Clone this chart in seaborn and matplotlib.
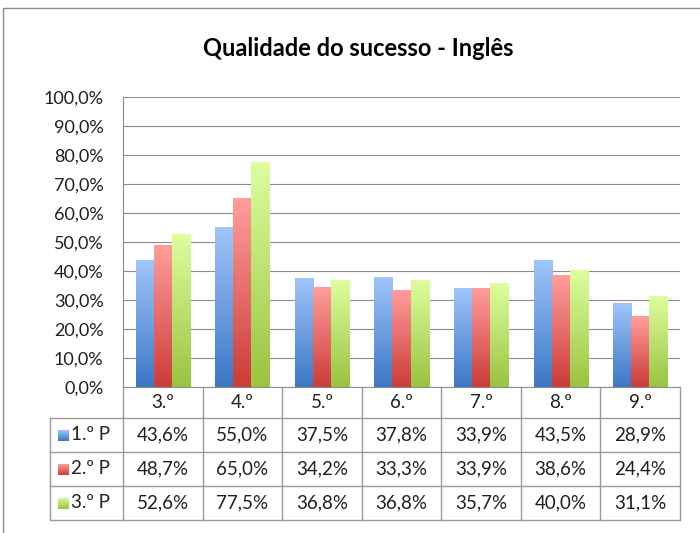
import numpy as np
import pandas as pd
import seaborn as sns
import matplotlib
matplotlib.use('Agg')
import matplotlib.pyplot as plt
from matplotlib.colors import LinearSegmentedColormap
from matplotlib.patches import Rectangle
from matplotlib.lines import Line2D
from matplotlib.transforms import Affine2D, blended_transform_factory
from matplotlib.ticker import FuncFormatter, MultipleLocator

# dados
anos = ['3.º', '4.º', '5.º', '6.º', '7.º', '8.º', '9.º']
periodos = ['1.º P', '2.º P', '3.º P']
p1 = [43.6, 55.0, 37.5, 37.8, 33.9, 43.5, 28.9]
p2 = [48.7, 65.0, 34.2, 33.3, 33.9, 38.6, 24.4]
p3 = [52.6, 77.5, 36.8, 36.8, 35.7, 40.0, 31.1]
titulo = 'Qualidade do sucesso - Inglês'

# cores do gradiente (baixo, cima)
cores = [('#3b77c6', '#a0c5fa'), ('#cc3b38', '#ff9e9c'), ('#99c340', '#defe9f')]

df = pd.DataFrame({
    'ano': anos * 3,
    'periodo': np.repeat(periodos, len(anos)),
    'valor': p1 + p2 + p3,
})

sns.set_theme(style='white')
plt.rcParams['font.family'] = ['Lato', 'DejaVu Sans']
txt = '#1f1f1f'
fs = 13.5

W, H = 700, 533
fig = plt.figure(figsize=(W / 100, H / 100), dpi=100)
# transform em pixeis (origem no canto superior esquerdo)
pix = Affine2D().scale(1 / W, -1 / H).translate(0, 1) + fig.transFigure

left, right, top, bottom = 123, 680, 97, 387
ax = fig.add_axes([left / W, 1 - bottom / H, (right - left) / W, (bottom - top) / H])

sns.barplot(data=df, x='ano', y='valor', hue='periodo', order=anos, hue_order=periodos,
            palette=[c[1] for c in cores], width=0.68, saturation=1, legend=False, ax=ax)

# gradiente vertical em cada barra
grad = np.linspace(0, 1, 256).reshape(-1, 1)
for cont, (c0, c1) in zip(ax.containers, cores):
    cmap = LinearSegmentedColormap.from_list('g', [c0, c1])
    for bar in cont:
        x0, w, h = bar.get_x(), bar.get_width(), bar.get_height()
        ax.imshow(grad, cmap=cmap, origin='lower', aspect='auto',
                  extent=[x0, x0 + w, 0, h], zorder=2)
        bar.set_alpha(0)

ax.set_xlim(-0.5, len(anos) - 0.5)
ax.set_ylim(0, 100)
ax.yaxis.set_major_locator(MultipleLocator(10))
ax.yaxis.set_major_formatter(FuncFormatter(lambda v, p: f'{v:.1f}%'.replace('.', ',')))
ax.yaxis.grid(True, color='#8c8c8c', lw=0.8)
ax.set_axisbelow(True)
ax.tick_params(axis='y', length=0, pad=14, labelsize=13, labelcolor=txt)
ax.set_xticks([])
ax.set_xlabel('')
ax.set_ylabel('')
for s in ['top', 'right']:
    ax.spines[s].set_visible(False)
for s in ['left', 'bottom']:
    ax.spines[s].set_color('#8c8c8c')
    ax.spines[s].set_linewidth(0.8)

# tabela de dados
colw = (right - left) / len(anos)
linhas_y = [387, 418, 452, 486, 520]
lc = '#9a9a9a'
for i in range(len(anos) + 1):
    fig.add_artist(Line2D([left + i * colw] * 2, [387, 520], transform=pix, color=lc, lw=1))
fig.add_artist(Line2D([50, 50], [418, 520], transform=pix, color=lc, lw=1))
for yy in linhas_y[1:]:
    fig.add_artist(Line2D([50, right], [yy, yy], transform=pix, color=lc, lw=1))

tr = blended_transform_factory(ax.transData, pix)
for i, a in enumerate(anos):
    fig.text(i, 403, a, transform=tr, ha='center', va='center', fontsize=fs, color=txt)

for r, (nome, vals, (c0, c1)) in enumerate(zip(periodos, [p1, p2, p3], cores)):
    yc = (linhas_y[r + 1] + linhas_y[r + 2]) / 2
    cmap = LinearSegmentedColormap.from_list('g', [c0, c1])
    sq = fig.add_axes([58 / W, 1 - (yc + 6) / H, 11 / W, 11 / H])
    sq.imshow(grad, cmap=cmap, origin='lower', aspect='auto')
    sq.axis('off')
    fig.text(71, yc, nome, transform=pix, ha='left', va='center', fontsize=fs, color=txt)
    for i, v in enumerate(vals):
        fig.text(i, yc, f'{v:.1f}%'.replace('.', ','), transform=tr, ha='center', va='center',
                 fontsize=fs, color=txt)

fig.text(358 / W, 1 - 48 / H, titulo, ha='center', va='center', fontsize=17, weight='bold',
         color='black')

# moldura do grafico
fig.add_artist(Rectangle((3, 8), 900, 700, transform=pix, fill=False, edgecolor='#8c8c8c', lw=1))

fig.savefig('out.png', dpi=100)
